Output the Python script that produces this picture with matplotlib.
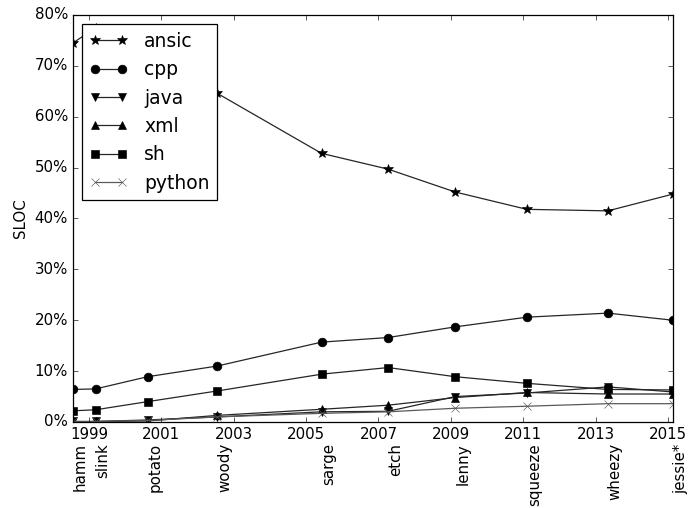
import datetime as dt
import matplotlib
matplotlib.use("Agg")
import matplotlib.pyplot as plt
import matplotlib.dates as mdates
import matplotlib.ticker as mticker

plt.style.use("classic")

# Debian releases and their dates
releases = ["hamm", "slink", "potato", "woody", "sarge", "etch",
            "lenny", "squeeze", "wheezy", "jessie*"]
release_dates = ["1998-07-24", "1999-03-09", "2000-08-15", "2002-07-19",
                 "2005-06-06", "2007-04-08", "2009-02-14", "2011-02-06",
                 "2013-05-04", "2015-02-20"]
year_ticks = [1999, 2001, 2003, 2005, 2007, 2009, 2011, 2013, 2015]

# share of SLOC per language (%)
ansic = [74.5, 77.5, 71.0, 64.6, 52.8, 49.7, 45.2, 41.8, 41.5, 44.8]
cpp = [6.4, 6.5, 8.9, 11.0, 15.7, 16.6, 18.7, 20.6, 21.4, 20.0]
java = [0.1, 0.1, 0.4, 1.0, 2.0, 2.1, 5.0, 5.7, 6.9, 5.9]
xml = [0.0, 0.1, 0.2, 1.3, 2.5, 3.3, 4.8, 5.8, 5.5, 5.5]
sh = [2.2, 2.4, 4.0, 6.1, 9.4, 10.7, 8.9, 7.6, 6.4, 6.3]
python = [0.1, 0.1, 0.3, 1.0, 1.7, 2.0, 2.7, 3.1, 3.6, 3.6]

x = mdates.date2num([dt.datetime.strptime(d, "%Y-%m-%d") for d in release_dates])
xyears = mdates.date2num([dt.datetime(y, 1, 1) for y in year_ticks])

fig = plt.figure(figsize=(693 / 90, 508 / 90), dpi=90, facecolor="white")
ax = fig.add_axes([0.1053, 0.1693, 0.8658, 0.8012])

ms = 7
ax.plot(x, ansic, "*-", color="0.15", mfc="k", mec="k", ms=ms + 1, label="ansic")
ax.plot(x, cpp, "o-", color="0.15", mfc="k", mec="k", ms=ms, label="cpp")
ax.plot(x, java, "v-", color="0.15", mfc="k", mec="k", ms=ms, label="java")
ax.plot(x, xml, "^-", color="0.15", mfc="k", mec="k", ms=ms, label="xml")
ax.plot(x, sh, "s-", color="0.15", mfc="k", mec="k", ms=ms, label="sh")
ax.plot(x, python, "x-", color="0.35", mec="0.35", ms=ms, label="python")

ax.set_xlim(x[0], x[-1])
ax.set_ylim(0, 80)
ax.yaxis.set_major_locator(mticker.MultipleLocator(10))
ax.yaxis.set_major_formatter(mticker.FuncFormatter(lambda v, _: f"{int(v)}%"))
ax.set_ylabel("SLOC")

# years as major ticks, release names as minor tick labels below them
ax.set_xticks(xyears)
ax.set_xticklabels([str(y) for y in year_ticks])
ax.set_xticks(x, minor=True)
ax.set_xticklabels(releases, minor=True, rotation=90, ha="left", va="top")
ax.tick_params(axis="x", which="minor", length=0, pad=17)

ax.legend(loc="upper left", fontsize=15, handletextpad=0.9)

fig.savefig("out.png", dpi=90, facecolor="white")
